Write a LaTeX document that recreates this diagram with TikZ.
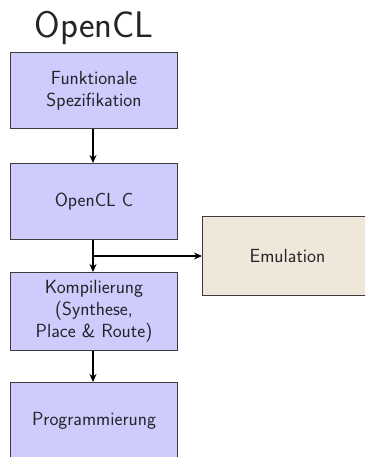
\documentclass[tikz,border=0pt]{standalone}
\usetikzlibrary{arrows.meta}
\definecolor{flowblue}{RGB}{206,204,252}
\definecolor{emubeige}{RGB}{240,231,219}
\definecolor{edgegray}{RGB}{60,60,60}
\definecolor{inkgray}{RGB}{35,35,40}
\tikzset{
  stage/.style={draw=edgegray, line width=1pt, fill=flowblue, minimum width=167pt, minimum height=76pt,
    align=center, text=inkgray, font=\sffamily\fontsize{19}{22}\selectfont, inner sep=0pt, anchor=north west},
  emubox/.style={stage, fill=emubeige},
  flow/.style={line width=1.8pt, -{Stealth[length=8pt,width=7pt]}}
}
\begin{document}
\begin{tikzpicture}[x=1pt,y=-1pt]
  \useasboundingbox (0,0) rectangle (365,457);
  \begin{scope}
    \clip (0,0) rectangle (365,457);
    \node[anchor=base, font=\sffamily\fontsize{37}{42}\selectfont, inner sep=0pt, text=inkgray] (title) at (94,38) {OpenCL};
    \node[stage] (spec) at (10,52) {Funktionale\\Spezifikation};
    \node[stage] (occ) at (10,163) {OpenCL C};
    \node[stage, minimum height=78pt] (comp) at (10,272) {Kompilierung\\(Synthese,\\Place \& Route)};
    \node[stage] (prog) at (10,382) {Programmierung};
    \node[emubox, minimum width=170pt, minimum height=79pt] (emu) at (202,216) {Emulation};
    \draw[flow] (spec.south -| 93,0) -- (occ.north -| 93,0);
    \draw[flow] (occ.south -| 93,0) -- (comp.north -| 93,0);
    \coordinate (split) at (93,256);
    \draw[flow] (split) -- (split -| emu.west);
    \draw[flow] (comp.south -| 93,0) -- (prog.north -| 93,0);
  \end{scope}
\end{tikzpicture}
\end{document}
